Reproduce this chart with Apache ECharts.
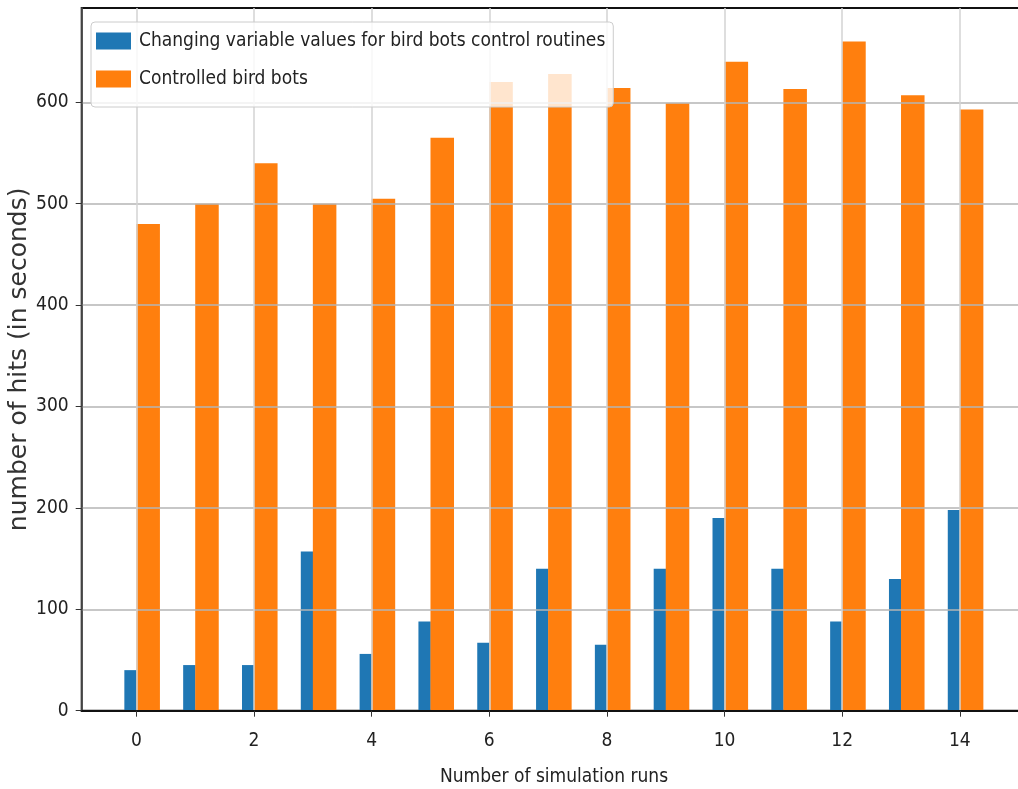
<!DOCTYPE html>
<html>
<head>
<meta charset="utf-8">
<style>
  html, body { margin: 0; padding: 0; background: #fff; }
  #chart { width: 1018px; height: 789px; }
</style>
<script src="https://cdn.jsdelivr.net/npm/echarts@6/dist/echarts.min.js"></script>
</head>
<body>
<div id="chart"></div>
<script>
var runs = [0, 1, 2, 3, 4, 5, 6, 7, 8, 9, 10, 11, 12, 13, 14];
var changingValues = [40, 45, 45, 157, 56, 88, 67, 140, 65, 140, 190, 140, 88, 130, 198];
var controlledValues = [480, 500, 540, 500, 505, 565, 620, 628, 614, 599, 640, 613, 660, 607, 593];
var xTicks = [0, 2, 4, 6, 8, 10, 12, 14];
var yTicks = [0, 100, 200, 300, 400, 500, 600];

(function() {
  var narrow = "'Liberation Sans Narrow', 'DejaVu Sans Condensed', sans-serif";
  var blue = '#1f77b4';
  var orange = '#ff7f0e';
  var xMin = -0.93, xMax = 15.13;

  // matplotlib-style offsets: narrow bar left of the run, wide bar right of it
  var blueData = runs.map(function(r, i) { return [r - 0.1, changingValues[i]]; });
  var orangeData = runs.map(function(r, i) { return [r + 0.2, controlledValues[i]]; });

  var chart = echarts.init(document.getElementById('chart'), null, { renderer: 'canvas' });
  chart.setOption({
    animation: false,
    legend: {
      data: ['Changing variable values for bird bots control routines', 'Controlled bird bots'],
      orient: 'vertical',
      left: 91,
      top: 22,
      z: 10,
      icon: 'rect',
      itemWidth: 35,
      itemHeight: 17,
      itemGap: 18,
      padding: [9, 8, 18, 5],
      backgroundColor: 'rgba(255,255,255,0.8)',
      borderColor: '#cccccc',
      borderWidth: 1,
      borderRadius: 4,
      textStyle: { fontFamily: narrow, fontSize: 19, lineHeight: 20, color: '#222', padding: [0, 0, 0, 3] }
    },
    grid: {
      left: 81.7, right: -8.3, top: 8, bottom: 78.3,
      outerBoundsMode: 'none',
      show: true, borderColor: '#111', borderWidth: 2
    },
    xAxis: [{
      type: 'value',
      min: xMin, max: xMax,
      z: 5,
      name: 'Number of simulation runs',
      nameLocation: 'middle',
      nameGap: 57,
      nameTextStyle: { fontFamily: narrow, fontSize: 19, color: '#222' },
      axisLine: { show: true, onZero: false, lineStyle: { color: '#111', width: 2 } },
      axisTick: { show: true, customValues: xTicks, length: 6, lineStyle: { color: '#333' } },
      axisLabel: { customValues: xTicks, margin: 21, fontFamily: narrow, fontSize: 19, color: '#222' },
      splitLine: { show: true, lineStyle: { color: '#d3d3d3', width: 1.5 } }
    }, {
      type: 'value',
      min: xMin, max: xMax,
      show: false
    }],
    yAxis: {
      type: 'value',
      min: 0, max: 693,
      z: 5,
      name: 'number of hits (in seconds)',
      nameLocation: 'middle',
      nameGap: 50,
      nameMoveOverlap: false,
      nameTextStyle: { fontFamily: "'DejaVu Sans', sans-serif", fontSize: 25, color: '#333' },
      axisLine: { show: true, onZero: false, lineStyle: { color: '#555', width: 1.5 } },
      axisTick: { show: true, customValues: yTicks, length: 6, lineStyle: { color: '#333' } },
      axisLabel: { customValues: yTicks, margin: 13, fontFamily: narrow, fontSize: 19, color: '#222' },
      splitLine: { show: true, lineStyle: { color: '#b5b5b5', width: 1.5 } }
    },
    series: [
      { name: 'Changing variable values for bird bots control routines', type: 'bar', xAxisIndex: 0,
        barWidth: '21%', itemStyle: { color: blue }, data: blueData },
      { name: 'Controlled bird bots', type: 'bar', xAxisIndex: 1,
        barWidth: '40%', itemStyle: { color: orange }, data: orangeData }
    ]
  });
  window.addEventListener('resize', function() { chart.resize(); });
})();
</script>
</body>
</html>
